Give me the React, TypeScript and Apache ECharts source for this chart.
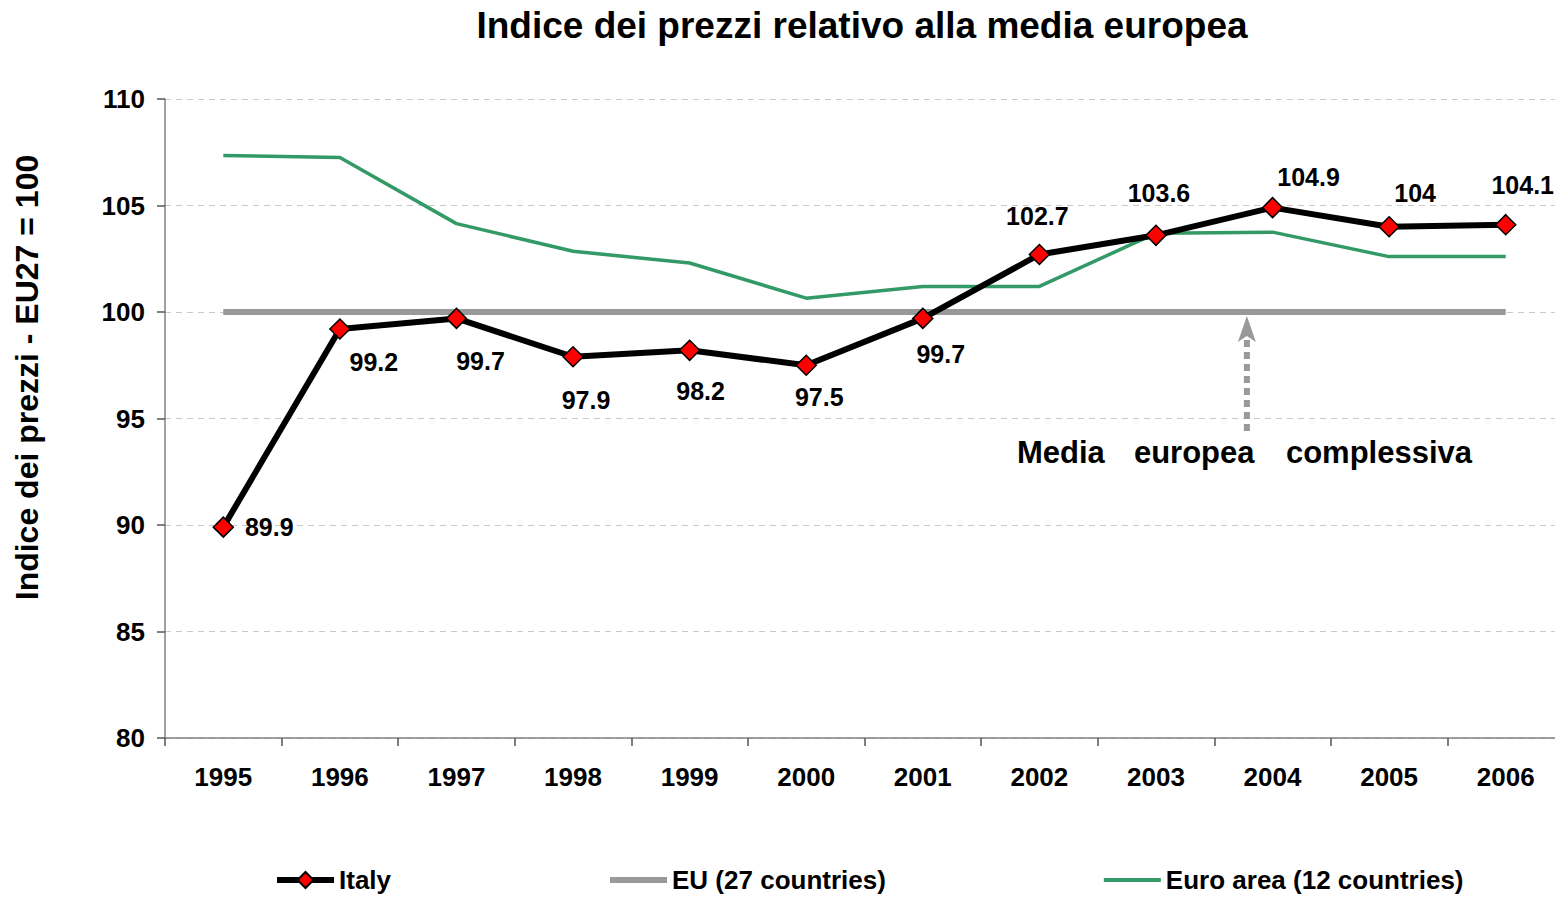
import React, { useEffect, useRef } from "react";
import * as echarts from "echarts";

const years = ["1995", "1996", "1997", "1998", "1999", "2000", "2001", "2002", "2003", "2004", "2005", "2006"];
const italy = [89.9, 99.2, 99.7, 97.9, 98.2, 97.5, 99.7, 102.7, 103.6, 104.9, 104, 104.1];
const eu27 = [100, 100, 100, 100, 100, 100, 100, 100, 100, 100, 100, 100];
const euroArea = [107.35, 107.25, 104.15, 102.85, 102.3, 100.65, 101.2, 101.2, 103.7, 103.75, 102.6, 102.6];
// label offsets (dx, dy) from each Italy point
const labelOffsets: [number, number][] = [
  [46, 0], [34, 33], [24, 43], [13, 43], [11, 41], [13, 32],
  [18, 36], [-2, -38], [3, -42], [36, -31], [26, -34], [17, -40],
];
const yTicks = { min: 80, max: 110, interval: 5 };
const annotationWords = ["Media", "europea", "complessiva"];
const FONT = "'Liberation Sans', Arial, sans-serif";

export default function App() {
  const ref = useRef<HTMLDivElement>(null);
  useEffect(() => {
    if (!ref.current) return;
    const chart = echarts.init(ref.current, undefined, { renderer: "svg" });
    const option: any = {
      animation: false,
      backgroundColor: "#ffffff",
      textStyle: { fontFamily: FONT },
      title: {
        text: "Indice dei prezzi relativo alla media europea",
        left: 857,
        textAlign: "center",
        top: 2,
        textStyle: { fontSize: 37, fontWeight: "bold", color: "#000", fontFamily: FONT },
      },
      legend: {
        left: 269,
        top: 862,
        itemGap: 216,
        itemWidth: 57,
        itemHeight: 20,
        textStyle: { fontSize: 26, fontWeight: "bold", color: "#000", fontFamily: FONT },
        data: [
          { name: "Italy", lineStyle: { width: 6, color: "#000" } },
          { name: "EU (27 countries)", lineStyle: { width: 6, color: "#999999" }, itemStyle: { opacity: 0 } },
          { name: "Euro area (12 countries)", lineStyle: { width: 4, color: "#339966" }, itemStyle: { opacity: 0 } },
        ],
      },
      grid: { left: 165, right: -9, top: 99, bottom: 159, containLabel: false, outerBoundsMode: "none" },
      xAxis: {
        type: "category",
        data: years,
        boundaryGap: true,
        axisLine: { show: true, lineStyle: { color: "#808080", width: 1.5 } },
        axisTick: { show: true, length: 8, inside: false, lineStyle: { color: "#555", width: 1.5 } },
        axisLabel: { fontSize: 26, fontWeight: "bold", color: "#000", margin: 26, fontFamily: FONT },
        splitLine: { show: false },
      },
      yAxis: {
        type: "value",
        min: yTicks.min,
        max: yTicks.max,
        interval: yTicks.interval,
        name: "Indice dei prezzi - EU27 = 100",
        nameLocation: "middle",
        nameGap: 122,
        nameRotate: 90,
        nameTextStyle: { fontSize: 32, fontWeight: "bold", color: "#000", fontFamily: FONT, padding: [0, 0, 0, 82] },
        axisLine: { show: true, lineStyle: { color: "#808080", width: 1.5 } },
        axisTick: { show: true, length: 8, lineStyle: { color: "#555", width: 1.5 } },
        axisLabel: { fontSize: 26, fontWeight: "bold", color: "#000", margin: 20, fontFamily: FONT },
        splitLine: { show: true, lineStyle: { color: "#c8c8c8", type: [6, 5], width: 1 } },
      },
      series: [
        {
          name: "Italy",
          type: "line",
          z: 5,
          data: italy.map((v, i) => ({
            value: v,
            label: { offset: labelOffsets[i] },
          })),
          symbol: "diamond",
          symbolSize: 20,
          itemStyle: { color: "#ff0000", borderColor: "#000", borderWidth: 1.5 },
          lineStyle: { color: "#000", width: 6 },
          label: {
            show: true,
            position: "inside",
            align: "center",
            verticalAlign: "middle",
            fontSize: 25,
            fontWeight: "bold",
            color: "#000",
            fontFamily: FONT,
            formatter: (p: any) => String(p.value),
          },
        },
        {
          name: "EU (27 countries)",
          type: "line",
          z: 3,
          data: eu27,
          symbol: "none",
          lineStyle: { color: "#999999", width: 6 },
          itemStyle: { color: "#999999" },
        },
        {
          name: "Euro area (12 countries)",
          type: "line",
          z: 4,
          data: euroArea,
          symbol: "none",
          lineStyle: { color: "#339966", width: 3.5 },
          itemStyle: { color: "#339966" },
        },
      ],
    };
    chart.setOption(option);

    // annotation arrow pointing to the EU average line
    const p8 = chart.convertToPixel({ gridIndex: 0 }, [8, 100]) as number[];
    const p9 = chart.convertToPixel({ gridIndex: 0 }, [9, 100]) as number[];
    const ax = p8[0] + (p9[0] - p8[0]) * 0.78;
    const ay = p8[1];
    const shaftEnd = (chart.convertToPixel({ gridIndex: 0 }, [9, 94.3]) as number[])[1];
    const textY = (chart.convertToPixel({ gridIndex: 0 }, [9, 93.4]) as number[])[1];
    const wordOffsets = [-230, -113, 39];
    chart.setOption({
      graphic: [
        {
          type: "line",
          shape: { x1: ax, y1: ay + 28, x2: ax, y2: shaftEnd },
          style: { stroke: "#999999", lineWidth: 6, lineDash: [7, 5] },
          z: 10,
        },
        {
          type: "polygon",
          shape: {
            points: [
              [ax, ay + 4],
              [ax + 9, ay + 30],
              [ax, ay + 24],
              [ax - 9, ay + 30],
            ],
          },
          style: { fill: "#999999" },
          z: 10,
        },
        ...annotationWords.map((w, i) => ({
          type: "text",
          x: ax + wordOffsets[i],
          y: textY,
          style: {
            text: w,
            fontSize: 31,
            fontWeight: "bold",
            fontFamily: FONT,
            fill: "#000",
            align: "left",
            verticalAlign: "middle",
          },
          z: 10,
        })),
      ],
    });
    return () => chart.dispose();
  }, []);
  return (
    <div
      ref={ref}
      style={{ position: "fixed", left: 0, top: 0, width: 1555, height: 897 }}
    />
  );
}
